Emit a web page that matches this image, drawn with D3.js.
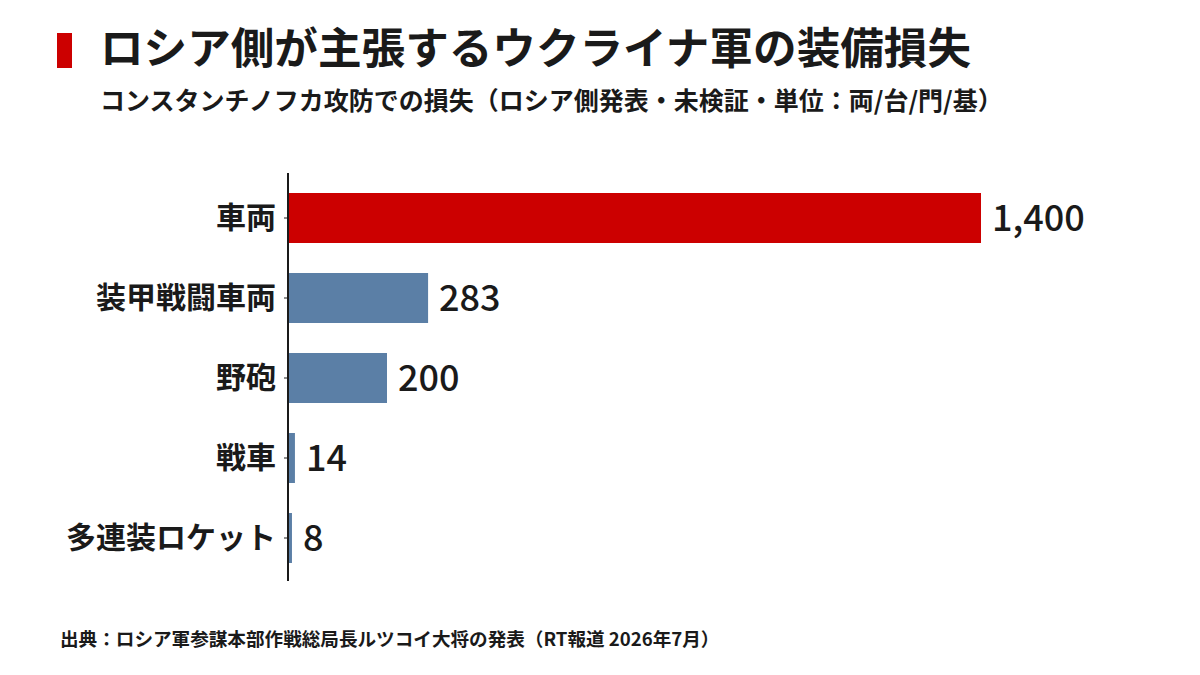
<!DOCTYPE html>
<html>
<head>
<meta charset="utf-8">
<script src="https://cdn.jsdelivr.net/npm/d3@7"></script>
<style>
  html, body { margin: 0; padding: 0; background: #fff; }
  svg { display: block; font-family: "Noto Sans CJK JP", "Noto Sans", sans-serif; }
</style>
</head>
<body>
<div id="chart"></div>
<script>
// data
const categories = ['車両', '装甲戦闘車両', '野砲', '戦車', '多連装ロケット'];
const values = [1400, 283, 200, 14, 8];
const highlight = ['車両'];

const titleText = 'ロシア側が主張するウクライナ軍の装備損失';
const subtitleText = 'コンスタンチノフカ攻防での損失（ロシア側発表・未検証・単位：両/台/門/基）';
const sourceText = '出典：ロシア軍参謀本部作戦総局長ルツコイ大将の発表（RT報道 2026年7月）';

const width = 1200;
const height = 675;
const marginLeft = 288;
const marginTop = 173;
const plotBottom = 583;

const red = '#cc0000';
const blue = '#5b7fa6';

const $svg = d3.select('#chart').append('svg')
  .attr('width', width)
  .attr('height', height);

// header
$svg.append('rect')
  .attr('x', 57).attr('y', 33)
  .attr('width', 15).attr('height', 35)
  .attr('fill', red);

$svg.append('text')
  .attr('x', 100).attr('y', 64)
  .attr('font-size', 43.6).attr('font-weight', 700)
  .attr('fill', '#1a1a1a')
  .text(titleText);

$svg.append('text')
  .attr('x', 100).attr('y', 110)
  .attr('font-size', 25).attr('font-weight', 700)
  .attr('fill', '#1a1a1a')
  .text(subtitleText);

// scales
const scaleX = d3.scaleLinear()
  .domain([0, 1400])
  .range([0, 693]);

const scaleY = d3.scaleBand()
  .domain(categories)
  .range([marginTop, plotBottom])
  .paddingInner(0.375)
  .paddingOuter(0.25);

const $g = $svg.append('g').attr('transform', `translate(${marginLeft}, 0)`);

const rows = categories.map((c, i) => ({ name: c, value: values[i] }));

$g.selectAll('.bar')
  .data(rows)
  .enter()
  .append('rect')
  .attr('class', 'bar')
  .attr('x', 0)
  .attr('y', d => scaleY(d.name))
  .attr('width', d => scaleX(d.value))
  .attr('height', scaleY.bandwidth())
  .attr('fill', d => highlight.includes(d.name) ? red : blue);

$g.selectAll('.val')
  .data(rows)
  .enter()
  .append('text')
  .attr('class', 'val')
  .attr('x', d => scaleX(d.value) + 11)
  .attr('y', d => scaleY(d.name) + scaleY.bandwidth() / 2)
  .attr('dy', '0.36em')
  .attr('font-size', 36)
  .attr('font-weight', 500)
  .attr('fill', '#1a1a1a')
  .text(d => d3.format(',')(d.value));

// y axis
const $axis = $g.append('g')
  .call(d3.axisLeft(scaleY).tickSize(4).tickPadding(8).tickSizeOuter(0));

$axis.select('.domain')
  .attr('d', `M0,${marginTop}V${plotBottom - 2}`)
  .attr('stroke', '#1a1a1a')
  .attr('stroke-width', 2);

$axis.selectAll('.tick line').attr('stroke', '#1a1a1a');
$axis.selectAll('.tick text')
  .attr('font-family', '"Noto Sans CJK JP", sans-serif')
  .attr('font-size', 30)
  .attr('font-weight', 700)
  .attr('fill', '#1a1a1a');

// footer
$svg.append('text')
  .attr('x', 60).attr('y', 646)
  .attr('font-size', 18.6).attr('font-weight', 700)
  .attr('fill', '#1a1a1a')
  .text(sourceText);
</script>
</body>
</html>
